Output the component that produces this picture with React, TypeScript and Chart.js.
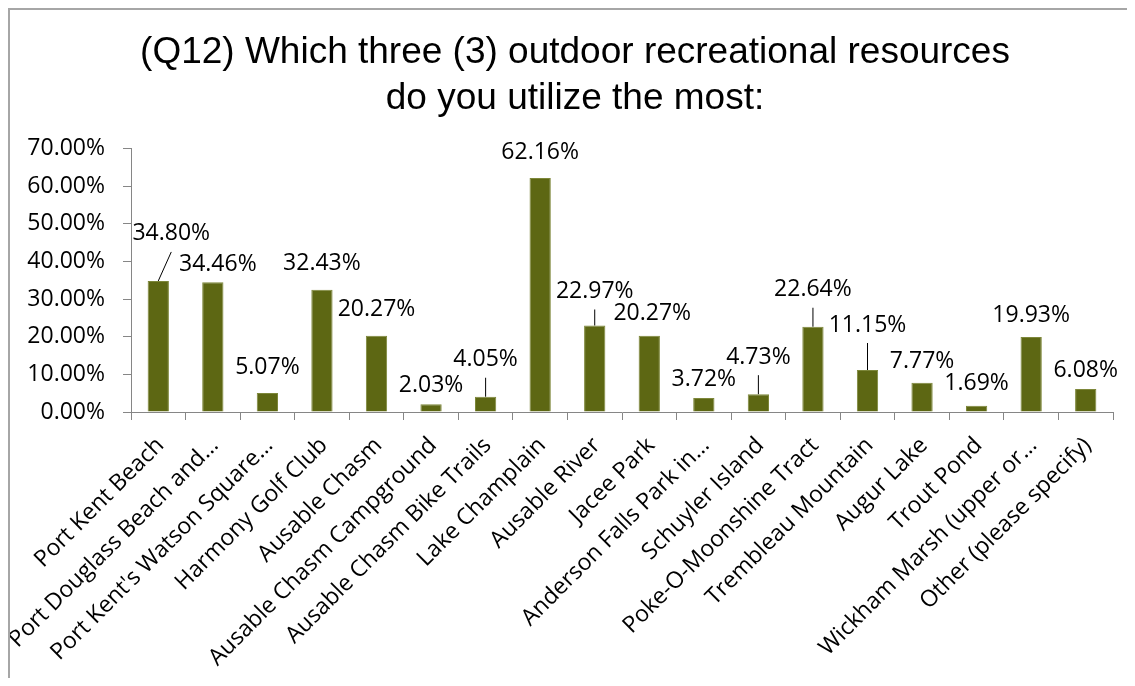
import React, { useEffect, useRef } from "react";
import { Chart, registerables } from "chart.js";

Chart.register(...registerables);

const categories: string[] = [
  "Port Kent Beach",
  "Port Douglass Beach and…",
  "Port Kent's Watson Square…",
  "Harmony Golf Club",
  "Ausable Chasm",
  "Ausable Chasm Campground",
  "Ausable Chasm Bike Trails",
  "Lake Champlain",
  "Ausable River",
  "Jacee Park",
  "Anderson Falls Park in…",
  "Schuyler Island",
  "Poke-O-Moonshine Tract",
  "Trembleau Mountain",
  "Augur Lake",
  "Trout Pond",
  "Wickham Marsh (upper or…",
  "Other (please specify)",
];

const values: number[] = [
  34.8, 34.46, 5.07, 32.43, 20.27, 2.03, 4.05, 62.16, 22.97, 20.27, 3.72, 4.73,
  22.64, 11.15, 7.77, 1.69, 19.93, 6.08,
];

const yTickValues: number[] = [0, 10, 20, 30, 40, 50, 60, 70];

const titleLines: string[] = [
  "(Q12) Which three (3) outdoor recreational resources",
  "do you utilize the most:",
];

// label placement relative to the top-centre of each bar (manual Excel label moves)
const labelOffsets: [number, number][] = [
  [13, -48], [5, -19], [0, -26], [0, -27], [0, -27], [0, -20], [0, -38], [0, -26],
  [0, -35], [3, -23], [0, -20], [0, -38], [0, -38], [0, -46], [0, -22], [0, -23],
  [0, -22], [0, -20],
];
const leaderLineIdx: number[] = [0, 6, 8, 11, 12, 13];

const BODY_FONT = '"Open Sans", "DejaVu Sans", sans-serif';
const AXIS_GRAY = "#868686";

const dataLabelPlugin = {
  id: "dataLabelPlugin",
  afterDatasetsDraw(chart: any) {
    const ctx = chart.ctx as CanvasRenderingContext2D;
    const meta = chart.getDatasetMeta(0);
    ctx.save();
    ctx.font = `23px ${BODY_FONT}`;
    ctx.fillStyle = "#000";
    ctx.textAlign = "center";
    ctx.textBaseline = "middle";
    meta.data.forEach((bar: any, i: number) => {
      const { x, y } = bar.getProps(["x", "y"], true);
      const [dx, dy] = labelOffsets[i];
      const lx = x + dx;
      const ly = y + dy;
      if (leaderLineIdx.includes(i)) {
        ctx.beginPath();
        ctx.moveTo(x, y);
        ctx.lineTo(lx, ly + 19);
        ctx.strokeStyle = "#000";
        ctx.lineWidth = 1;
        ctx.stroke();
      }
      ctx.fillText(values[i].toFixed(2) + "%", lx, ly + 1);
    });
    ctx.restore();
  },
};

export default function App() {
  const canvasRef = useRef<HTMLCanvasElement | null>(null);

  useEffect(() => {
    document.documentElement.style.overflow = "hidden";
    const canvas = canvasRef.current;
    if (!canvas) return;
    const chart = new Chart(canvas, {
      type: "bar",
      data: {
        labels: categories,
        datasets: [
          {
            data: values,
            backgroundColor: "#5d6713",
            borderColor: "#7d873a",
            borderWidth: 1,
            barPercentage: 0.39,
            categoryPercentage: 1,
          },
        ],
      },
      options: {
        responsive: false,
        animation: false,
        layout: { padding: 0 },
        plugins: {
          legend: { display: false },
          tooltip: { enabled: false },
          title: {
            display: true,
            text: titleLines,
            color: "#000",
            font: { family: '"Liberation Sans", Arial, sans-serif', size: 37, weight: "normal", lineHeight: 1.262 },
            padding: { top: 19, bottom: 26 },
          },
        },
        scales: {
          x: {
            grid: {
              display: true,
              drawOnChartArea: false,
              drawTicks: true,
              tickLength: 8,
              color: AXIS_GRAY,
              offset: true,
            },
            border: { display: true, color: AXIS_GRAY, width: 1 },
            ticks: {
              autoSkip: false,
              maxRotation: 45,
              minRotation: 45,
              color: "#000",
              padding: 12,
              labelOffset: 2,
              font: { family: BODY_FONT, size: 23 },
            },
            afterFit(scale: any) {
              scale.height = 266;
              scale.paddingRight = 27;
            },
          },
          y: {
            min: 0,
            max: 70,
            afterBuildTicks(scale: any) {
              scale.ticks = yTickValues.map((v) => ({ value: v }));
            },
            grid: {
              display: true,
              drawOnChartArea: false,
              drawTicks: true,
              tickLength: 8,
              color: AXIS_GRAY,
            },
            border: { display: true, color: AXIS_GRAY, width: 1 },
            ticks: {
              color: "#000",
              padding: 18,
              font: { family: BODY_FONT, size: 23 },
              callback: (v: any) => Number(v).toFixed(2) + "%",
            },
            afterFit(scale: any) {
              scale.width = 121;
            },
          },
        },
      },
      plugins: [dataLabelPlugin],
    });
    return () => chart.destroy();
  }, []);

  return (
    <div
      style={{
        borderLeft: "2px solid #a6a6a6",
        borderTop: "2px solid #a6a6a6",
        width: 1125,
        height: 668,
        overflow: "hidden",
        background: "#fff",
      }}
    >
      <canvas ref={canvasRef} width={1130} height={668} style={{ display: "block" }} />
    </div>
  );
}
